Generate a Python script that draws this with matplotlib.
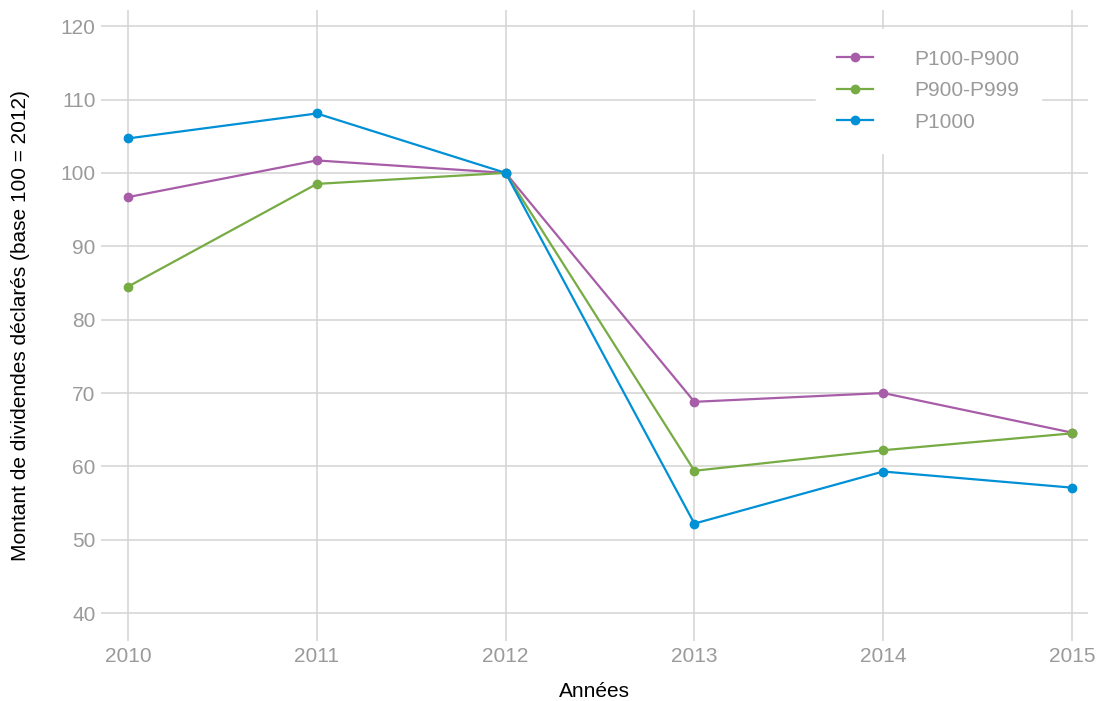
import matplotlib.pyplot as plt

plt.rcParams['font.family'] = ['Liberation Sans', 'DejaVu Sans']

# Données (base 100 = 2012)
annees = [2010, 2011, 2012, 2013, 2014, 2015]
p100_p900 = [96.7, 101.7, 100.0, 68.8, 70.0, 64.6]
p900_p999 = [84.5, 98.5, 100.0, 59.4, 62.2, 64.5]
p1000 = [104.7, 108.1, 100.0, 52.2, 59.3, 57.1]

series = [
    ('P100-P900', p100_p900, '#A75DA8'),
    ('P900-P999', p900_p999, '#77AB43'),
    ('P1000', p1000, '#0090D6'),
]

fig = plt.figure(figsize=(10.97, 7.01), dpi=100)
ax = fig.add_axes([0.0921, 0.0856, 0.8997, 0.9001])

for nom, vals, couleur in series:
    ax.plot(annees, vals, color=couleur, linewidth=1.6, marker='o',
            markersize=6, label=nom, zorder=3)

ax.set_xlim(2009.857, 2015.085)
ax.set_ylim(36.2, 122.2)
ax.set_yticks(range(40, 121, 10))
ax.set_xticks(annees)

ax.grid(True, color='#d3d3d3', linewidth=1.1)
ax.set_axisbelow(True)
for s in ax.spines.values():
    s.set_visible(False)
ax.tick_params(length=0, labelsize=15, labelcolor='#9a9a9a', pad=4)

ax.set_xlabel('Années', fontsize=15, labelpad=12)
ax.set_ylabel('Montant de dividendes déclarés (base 100 = 2012)', fontsize=15, labelpad=22)

leg = ax.legend(loc='upper right', bbox_to_anchor=(0.952, 0.970), fontsize=15,
                frameon=True, fancybox=False, borderpad=1.0, handlelength=1.75,
                handletextpad=2.0, labelspacing=0.6, borderaxespad=0)
leg.get_frame().set_facecolor('white')
leg.get_frame().set_edgecolor('white')
leg.get_frame().set_alpha(1)
for t in leg.get_texts():
    t.set_color('#9a9a9a')

fig.savefig('out.png', dpi=100)
